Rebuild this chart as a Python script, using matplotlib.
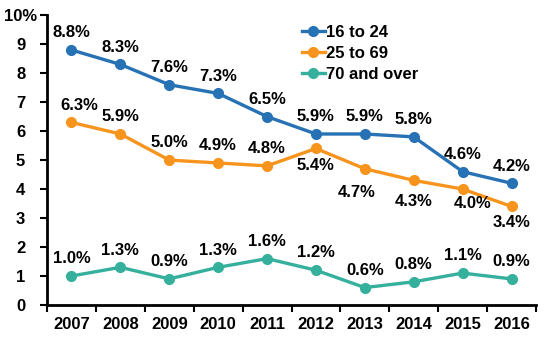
import numpy as np
import matplotlib.pyplot as plt

plt.rcParams['font.family'] = ['Liberation Sans', 'DejaVu Sans']
plt.rcParams['font.weight'] = 'bold'

years = ['2007', '2008', '2009', '2010', '2011', '2012', '2013', '2014', '2015', '2016']
young = [8.8, 8.3, 7.6, 7.3, 6.5, 5.9, 5.9, 5.8, 4.6, 4.2]
middle = [6.3, 5.9, 5.0, 4.9, 4.8, 5.4, 4.7, 4.3, 4.0, 3.4]
old = [1.0, 1.3, 0.9, 1.3, 1.6, 1.2, 0.6, 0.8, 1.1, 0.9]
series_names = ['16 to 24', '25 to 69', '70 and over']

# label nudges for the middle series (points), negative dy = under the point
middle_dx = [6, 0, 0, 0, 0, 0, -6, 0, 7, 0]
middle_dy = [7, 7, 7, 7, 7, -7, -12, -10, -5, -6]

colors = ['#2771B5', '#F7941D', '#35B09C']
fs = 12

fig = plt.figure(figsize=(5.5, 3.37), dpi=100)
ax = fig.add_axes([0.0855, 0.095, 0.889, 0.86])

x = np.arange(len(years))
for vals, name, c in zip([young, middle, old], series_names, colors):
    ax.plot(x, vals, '-o', color=c, lw=2.4, ms=7, label=name)


def put_label(i, v, dx=0, dy=7):
    ax.annotate(f'{v:.1f}%', (i, v), xytext=(dx, dy), textcoords='offset points',
                ha='center', va='top' if dy < 0 else 'bottom', fontsize=fs, fontweight='bold')


for i in x:
    put_label(i, young[i])
    put_label(i, middle[i], middle_dx[i], middle_dy[i])
    put_label(i, old[i])

ax.set_xlim(-0.5, len(years) - 0.5)
ax.set_ylim(0, 10)
ax.set_yticks(range(0, 11))
ax.set_yticklabels([str(v) for v in range(10)] + ['10%'], fontsize=fs, fontweight='bold')
ax.set_xticks(x)
ax.set_xticklabels(years, fontsize=fs, fontweight='bold')
ax.tick_params(axis='x', length=0, pad=9)
ax.set_xticks(np.arange(-0.5, len(years)), minor=True)
ax.tick_params(axis='x', which='minor', length=5, width=1.5, direction='out')
ax.tick_params(axis='y', length=5, width=1.5, direction='out', pad=14)
for lab in ax.get_yticklabels():
    lab.set_horizontalalignment('center')

ax.spines['top'].set_visible(False)
ax.spines['right'].set_visible(False)
ax.spines['left'].set_linewidth(2)
ax.spines['bottom'].set_linewidth(2)

leg = ax.legend(loc='upper left', bbox_to_anchor=(0.5, 1.0), frameon=False,
                prop={'size': fs, 'weight': 'bold'}, handlelength=1.4, handletextpad=0.1,
                labelspacing=0.35, borderaxespad=0.2)

fig.savefig('out.png', dpi=100)
